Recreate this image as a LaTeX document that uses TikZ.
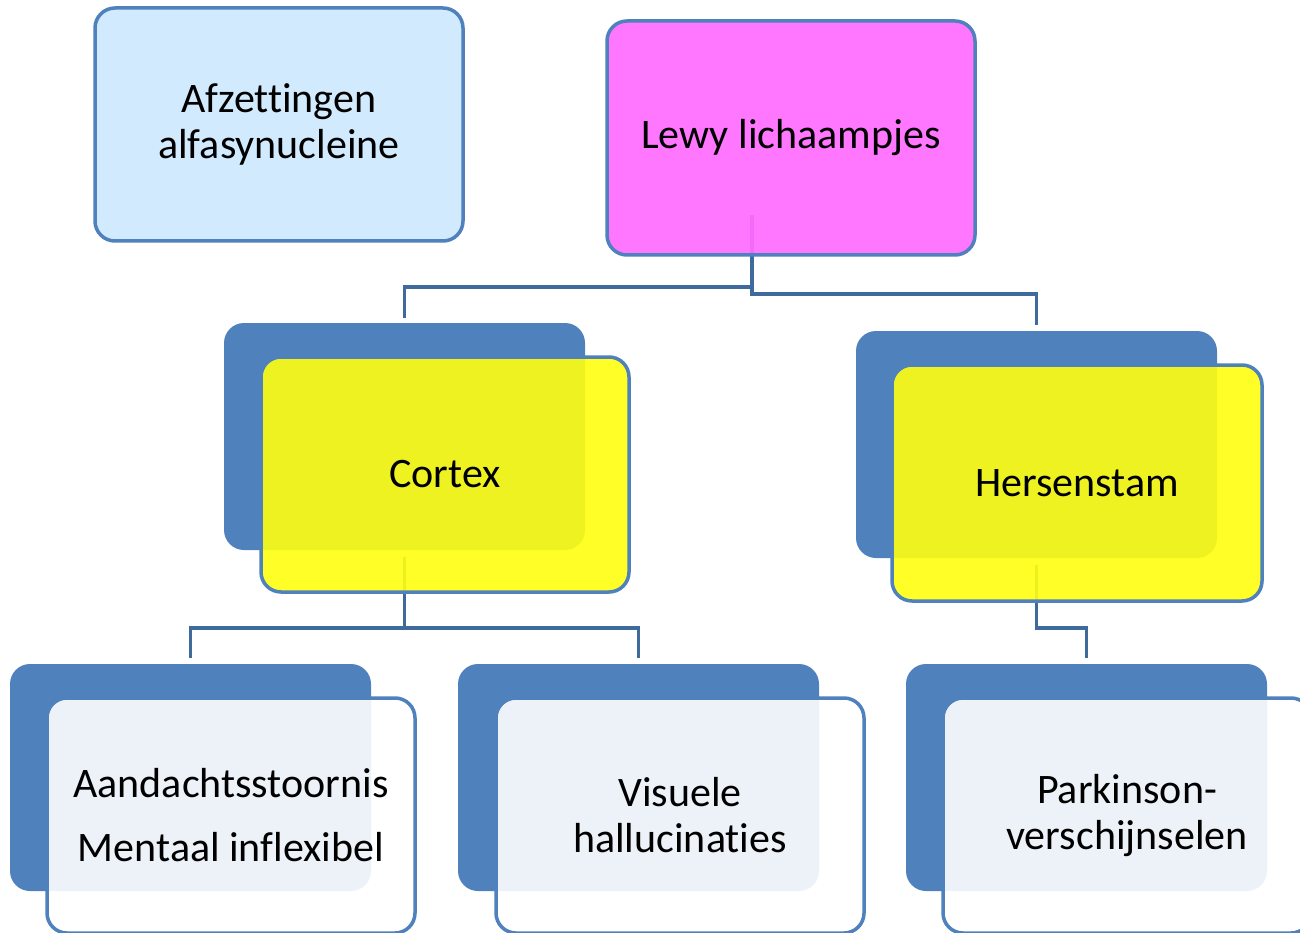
\documentclass[tikz,border=0pt]{standalone}
\usepackage{fontspec}
\setmainfont[Ligatures=NoCommon]{Carlito}
\usetikzlibrary{calc}
\definecolor{accent}{RGB}{79,129,189}
\definecolor{connc}{RGB}{63,106,158}
\definecolor{lightblue}{RGB}{209,234,253}
\definecolor{magentabox}{RGB}{255,108,255}
\definecolor{yellowbox}{RGB}{255,255,16}
\begin{document}
\begin{tikzpicture}[x=1pt,y=-1pt,
  every node/.style={inner sep=0pt, outer sep=0pt},
  txt/.style={font=\fontsize{42}{46}\selectfont, align=center, text=black, text opacity=1},
  backbox/.style={rectangle, rounded corners=20pt, fill=accent, anchor=north west,
    minimum width=361pt, minimum height=227pt},
  frontbox/.style={rectangle, rounded corners=20pt, draw=accent, line width=3.5pt,
    fill opacity=0.9, anchor=north west, minimum width=368pt, minimum height=235pt, txt},
  conn/.style={draw=connc, line width=3.5pt}
]
\useasboundingbox (0,0) rectangle (1300,933);
\clip (0,0) rectangle (1300,933);
\fill[white] (0,0) rectangle (1300,933);

% hub of the top-level connector
\coordinate (lewyHub) at (752,215);

% back boxes (define geometry for connectors)
\node[backbox] (cortexBack) at (224,323) {};
\node[backbox] (hersBack) at (856,331) {};
\node[backbox] (aandBack) at (10,664) {};
\node[backbox] (visBack) at (458,664) {};
\node[backbox] (parkBack) at (906,664) {};

% connectors (behind the front boxes)
\coordinate (cortexHub) at ($(cortexBack.south)+(0,7)$);
\coordinate (hersHub) at ($(hersBack.south)+(0,7)$);
\draw[conn] (lewyHub) -- ++(0,72) -| ($(cortexBack.north)+(0,-5)$);
\draw[conn] (lewyHub) -- ++(0,79) -| ($(hersBack.north)+(0,-6)$);
\draw[conn] (cortexHub) -- ++(0,71) -| ($(aandBack.north)+(0,-6)$);
\draw[conn] (cortexHub) -- ++(0,71) -| ($(visBack.north)+(0,-6)$);
\draw[conn] (hersHub) -- ++(0,63) -| ($(parkBack.north)+(0,-6)$);

% top boxes
\node[frontbox, fill=lightblue, fill opacity=1, minimum height=233pt] (afz) at (95,8)
  {Afzettingen\\alfasynucleine};
\node[frontbox, fill=magentabox, fill opacity=0.93, minimum height=234pt] (lewy) at (607,21)
  {Lewy lichaampjes};

% front boxes
\node[frontbox, fill=yellowbox] (cortex) at (261,357) {Cortex};
\node[frontbox, fill=yellowbox, minimum width=370pt, minimum height=236pt] (hers) at (892,365) {Hersenstam};
\node[frontbox, fill=white] (aand) at (47,698)
  {Aandachtsstoornis\\[18pt]Mentaal inflexibel};
\node[frontbox, fill=white] (vis) at (496,698)
  {Visuele\\hallucinaties};
\node[frontbox, fill=white] (park) at (943,698)
  {Parkinson-\\verschijnselen};
\end{tikzpicture}
\end{document}
